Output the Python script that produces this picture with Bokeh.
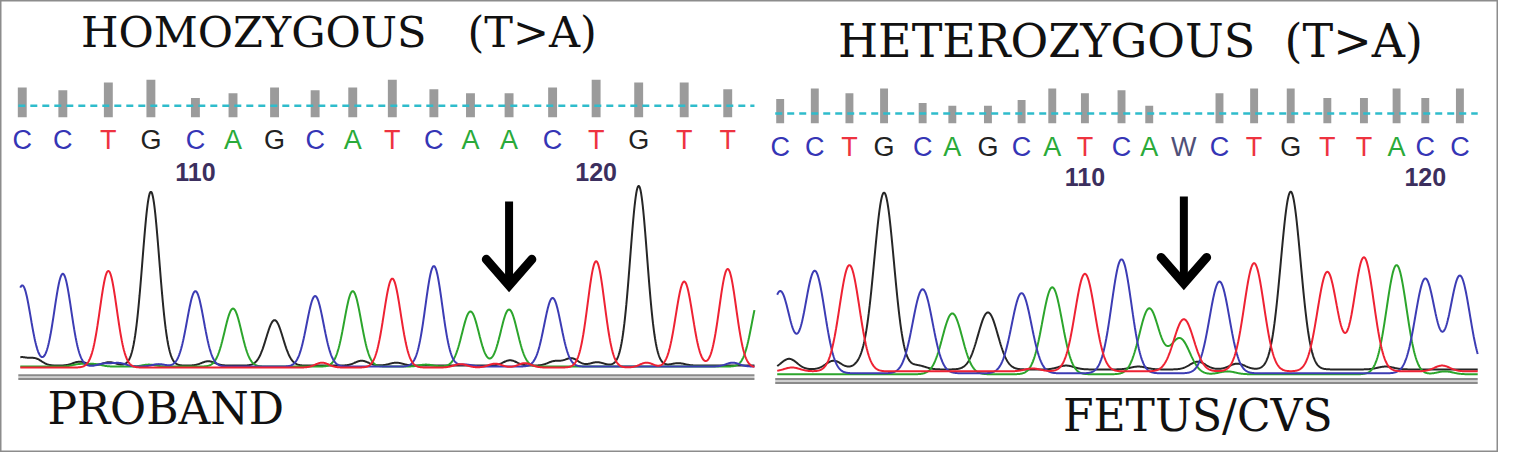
import numpy as np
from bokeh.plotting import figure
from bokeh.models import Range1d
from bokeh.embed import file_html
from bokeh.resources import INLINE
from bokeh.core.properties import value

# ---------------- data ----------------
# Left read (proband, homozygous)
left_bases = list("CCTGCAGCATCAACTGTT")
left_pos = [4, 45, 91, 134, 179, 217, 259, 300, 338, 378, 420, 457, 496, 540, 584, 627, 673, 717]
left_qv = [31, 28, 36, 39, 20, 25, 31, 28, 31, 39, 29, 25, 25, 31, 39, 36, 36, 29]
left_peak = [840, 960, 1000, 1800, 780, 600, 470, 730, 780, 920, 1040, 570, 590, 710, 1100, 1860, 890, 1020]
left_first_number = 106
left_mut_index = 12
left_extra = [("A", 750, 750)]
left_noise = [
    ("G", 2, 80), ("G", 17, 70), ("G", 62, 40), ("G", 92, 35), ("G", 192, 45),
    ("G", 347, 50), ("G", 382, 30), ("G", 497, 55), ("G", 542, 45), ("G", 559, 75),
    ("G", 585, 35), ("G", 667, 25),
    ("T", 307, 50), ("T", 447, 35), ("T", 482, 40), ("T", 512, 45), ("T", 635, 50),
    ("C", 87, 30), ("C", 102, 35), ("C", 142, 25), ("C", 452, 20), ("C", 722, 40),
    ("A", 62, 25), ("A", 77, 25), ("A", 132, 20), ("A", 412, 20),
]
left_offset = {"T": 0, "G": 20, "C": 10, "A": 10}

# Right read (fetus / CVS, heterozygous)
right_bases = list("CCTGCAGCATCAWCTGTTACC")
right_pos = [5, 40, 75, 110, 149, 179, 215, 249, 280, 313, 350, 378, 413, 449, 484, 521, 558, 595, 628, 657, 692]
right_qv = [25, 36, 31, 36, 21, 18, 18, 24, 36, 31, 34, 18, 0, 31, 36, 36, 26, 26, 36, 26, 36]
right_peak = [850, 1060, 1100, 1830, 870, 630, 590, 830, 900, 1010, 1180, 680, 540, 950, 1120, 1840, 1030, 1180, 1130, 980, 1010]
right_first_number = 101
right_mut_index = 12
right_extra = [("A", 409, 370)]
right_noise = [
    ("G", 14, 110), ("G", 59, 90), ("G", 87, 45), ("G", 144, 40), ("G", 294, 40),
    ("G", 367, 30), ("G", 427, 80), ("G", 467, 60), ("G", 617, 30),
    ("T", 17, 40), ("T", 260, 30), ("T", 674, 60),
    ("A", 457, 30), ("A", 677, 30),
]
right_offset = {"A": -20, "C": -10, "T": 10, "G": 30}

title_left = "HOMOZYGOUS\u00a0\u00a0\u00a0(T>A)"
title_right = "HETEROZYGOUS\u00a0\u00a0(T>A)"
label_left = "PROBAND"
label_right = "FETUS/CVS"

# ---------------- styles ----------------
trace_color = {"G": "#262626", "A": "#2ca52c", "C": "#3c3cb4", "T": "#ee2233"}
letter_color = {"C": "#3535b5", "T": "#ee3340", "G": "#222222", "A": "#2aaa3a", "W": "#505078"}
channel_of = {"A": "A", "C": "C", "G": "G", "T": "T", "W": "T"}


def channel_trace(xs, bases, pos, heights, extra, noise, ch, sigma, offset):
    y = np.full(xs.shape, float(offset))
    for b, c, h in zip(bases, pos, heights):
        if channel_of[b] == ch:
            y += h * np.exp(-0.5 * ((xs - c) / sigma) ** 2)
    for cc, c, h in extra:
        if cc == ch:
            y += h * np.exp(-0.5 * ((xs - c) / sigma) ** 2)
    for cc, c, h in noise:
        if cc == ch:
            y += h * np.exp(-0.5 * ((xs - c) / (sigma * 0.8)) ** 2)
    return y


p = figure(width=1498, height=452, x_range=Range1d(0, 1514), y_range=Range1d(468, 0),
           output_backend="svg", toolbar_location=None, min_border=0,
           x_axis_location=None, y_axis_location=None)
p.grid.visible = False
p.outline_line_color = "#8c8c8c"
p.outline_line_width = 2
p.background_fill_color = "white"
p.border_fill_color = "white"

p.extra_x_ranges = {"lx": Range1d(-18, 1496), "rx": Range1d(-783, 731)}
p.extra_y_ranges = {"ly": Range1d(-880, 3800), "ry": Range1d(-830, 3850),
                    "lq": Range1d(-347, 121), "rq": Range1d(-341, 127)}

panels = [
    dict(xr="lx", yr="ly", qr="lq", bases=left_bases, pos=left_pos, qv=left_qv, peak=left_peak,
         first=left_first_number, mut=left_mut_index, extra=left_extra, noise=left_noise,
         offset=left_offset, xmin=2, xmax=744, sigma=8.5, barw=9, dash_q=12,
         letter_y=144.5, num_y=178, band=(388, 390, 392), arrow=(208, 295, 300)),
    dict(xr="rx", yr="ry", qr="rq", bases=right_bases, pos=right_pos, qv=right_qv, peak=right_peak,
         first=right_first_number, mut=right_mut_index, extra=right_extra, noise=right_noise,
         offset=right_offset, xmin=2, xmax=710, sigma=10.0, barw=8, dash_q=10,
         letter_y=151.5, num_y=183, band=(392, 394, 396), arrow=(203, 293, 298)),
]

for d in panels:
    xr, yr, qr = d["xr"], d["yr"], d["qr"]
    # quality bars
    p.vbar(x=d["pos"], width=d["barw"], bottom=0, top=d["qv"], x_range_name=xr,
           y_range_name=qr, fill_color="#9b9b9b", line_color=None)
    # dashed threshold line
    p.line(x=[0, d["xmax"]], y=[d["dash_q"], d["dash_q"]], x_range_name=xr, y_range_name=qr,
           line_color="#2fbccb", line_width=2.5, line_dash="7 5")
    # base calls
    p.text(x=d["pos"], y=[d["letter_y"]] * len(d["bases"]), text=d["bases"],
           text_color=[letter_color[b] for b in d["bases"]], x_range_name=xr,
           text_font=value("Liberation Sans"), text_font_size="27px",
           text_align="center", text_baseline="alphabetic")
    # position numbers
    nx, nt = [], []
    for i, c in enumerate(d["pos"]):
        n = d["first"] + i
        if n % 10 == 0:
            nx.append(c)
            nt.append(str(n))
    p.text(x=nx, y=[d["num_y"]] * len(nx), text=nt, x_range_name=xr,
           text_font=value("Liberation Sans"), text_font_size="25px", text_font_style="bold",
           text_color="#3c2f5e", text_align="center", text_baseline="alphabetic")
    # traces
    xs = np.arange(d["xmin"], d["xmax"] + 0.25, 0.5)
    for ch in ["G", "A", "C", "T"]:
        ys = channel_trace(xs, d["bases"], d["pos"], d["peak"], d["extra"], d["noise"],
                           ch, d["sigma"], d["offset"][ch])
        p.line(x=xs, y=ys, x_range_name=xr, y_range_name=yr,
               line_color=trace_color[ch], line_width=2)
    # double grey base line
    b0, b1, b2 = d["band"]
    p.line(x=[0, d["xmax"]], y=[b1, b1], x_range_name=xr, line_color="#cfcfcf", line_width=2)
    p.line(x=[0, d["xmax"]], y=[b0, b0], x_range_name=xr, line_color="#8a8a8a", line_width=2)
    p.line(x=[0, d["xmax"]], y=[b2, b2], x_range_name=xr, line_color="#8a8a8a", line_width=2)
    # arrow at the mutated base
    mx = d["pos"][d["mut"]]
    top, shaft_end, tip = d["arrow"]
    p.segment(x0=[mx], y0=[top], x1=[mx], y1=[shaft_end], x_range_name=xr,
              line_color="black", line_width=8)
    p.line(x=[mx - 23, mx, mx + 23], y=[tip - 32, tip - 5, tip - 32], x_range_name=xr,
           line_color="black", line_width=9, line_join="miter", line_cap="round")

# titles and labels
serif = value("DejaVu Serif")
p.text(x=[342], y=[32.5], text=[title_left], text_font=serif, text_font_size="43px",
       text_align="center", text_baseline="alphabetic", text_color="#111111")
p.text(x=[1142], y=[42], text=[title_right], text_font=serif, text_font_size="46px",
       text_align="center", text_baseline="alphabetic", text_color="#111111")
p.text(x=[167], y=[422], text=[label_left], text_font=serif, text_font_size="44px",
       text_align="center", text_baseline="alphabetic", text_color="#111111")
p.text(x=[1210], y=[430], text=[label_right], text_font=serif, text_font_size="44px",
       text_align="center", text_baseline="alphabetic", text_color="#111111")

open("out.html", "w").write(file_html(p, INLINE))
